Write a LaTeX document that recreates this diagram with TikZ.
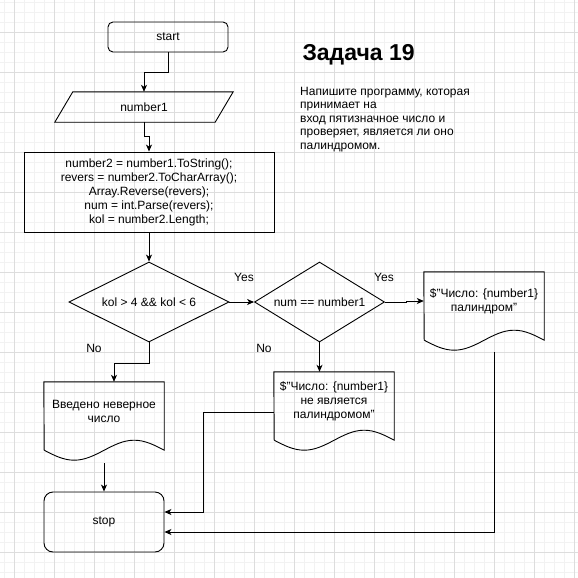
\documentclass[tikz,border=0pt]{standalone}
\usepackage{fontspec}
\setmainfont{Liberation Sans}
\usetikzlibrary{arrows.meta,shapes.geometric}

\definecolor{gridminor}{RGB}{242,242,242}
\definecolor{gridmajor}{RGB}{221,221,221}

\tikzset{
    line/.style = {line width = 0.9pt},
    arrow/.style = {line, -{Stealth[length = 7pt, width = 6pt, inset = 2pt]}},
    txt/.style = {font = \fontsize{12}{14}\selectfont, inner sep = 0pt},
    terminal/.style = {txt, draw, line, minimum width = 120},
    io/.style = {txt, minimum width = 160, minimum height = 30},
    process/.style = {txt, draw, line, align = center, minimum width = 250, minimum height = 80},
    decision/.style = {txt, draw, line, diamond, minimum height = 80},
    doc/.style = {txt, align = center, minimum width = 120, minimum height = 58},
}

% wavy bottom of a document node
\newcommand{\docoutline}[1]{%
    \draw[line] (#1.north west) -- (#1.north east) -- ([yshift = -10pt]#1.south east)
        sin ++(-30, -10) cos ++(-30, 10) sin ++(-30, 10) cos ++(-30, -10) -- cycle;
}

\begin{document}
\begin{tikzpicture}[x = 1pt, y = -1pt]
    \useasboundingbox (0, 0) rectangle (578, 578);
    \draw [gridminor, line width = 0.8pt]
        \foreach\x in {4, 14, ..., 574} {(\x, 0) -- (\x, 578)}
        \foreach\y in {2, 12, ..., 572} {(0, \y) -- (578, \y)};
    \draw [gridmajor, line width = 0.8pt]
        \foreach\x in {14, 54, ..., 574} {(\x, 0) -- (\x, 578)}
        \foreach\y in {32, 72, ..., 552} {(0, \y) -- (578, \y)};

    \node [anchor = base west, font = \fontsize{23}{27}\selectfont\bfseries] (title) at (299, 60) {Задача 19};
    \node [txt, anchor = north west, align = left, font = \fontsize{12}{13.5}\selectfont] (task) at (300, 87)
        {Напишите программу, которая\\принимает на\\вход пятизначное число и\\проверяет, является ли оно\\палиндромом.};

    \node [terminal, rounded corners = 5pt, minimum height = 30] (start) at (168, 37) {start};
    \node [io] (in) at (144, 107) {number1};
    \draw [line] ([xshift = -9pt]in.south west) -- ([xshift = 9pt]in.north west)
        -- ([xshift = 9pt]in.north east) -- ([xshift = -9pt]in.south east) -- cycle;
    \node [process] (calc) at (149, 192) {number2 = number1.ToString();\\revers = number2.ToCharArray();\\Array.Reverse(revers);\\num = int.Parse(revers);\\kol = number2.Length;};
    \node [decision, aspect = 2, minimum width = 160] (len) at (149, 302) {kol > 4 \&\& kol < 6};
    \node [decision, aspect = 1.625, minimum width = 130] (same) at (319.5, 302) {num == number1};
    \node [doc] (pal) at (484, 301) {\$"Число: \{number1\}\\палиндром"};
    \node [doc] (notpal) at (334, 401) {\$"Число: \{number1\}\\не является\\палиндромом"};
    \node [doc] (wrong) at (104, 411) {Введено неверное\\число};
    \docoutline{pal}
    \docoutline{notpal}
    \docoutline{wrong}
    \node [terminal, rounded corners = 9pt, minimum height = 60] (stop) at (104, 522) {stop};

    \node [txt] (yes1) at (244, 277) {Yes};
    \node [txt] (yes2) at (384, 277) {Yes};
    \node [txt] (no1) at (94, 348) {No};
    \node [txt] (no2) at (264, 348) {No};

    \draw [arrow] (start.south) -- ++(0, 20) -| (in.north);
    \draw [arrow] (in.south) -- ++(0, 14) -| (calc.north);
    \draw [arrow] (calc.south) -- (len.north);
    \draw [arrow] (len.east) -- (same.west);
    \draw [arrow] (same.east) -- ++(21, 0) |- (pal.west);
    \draw [arrow] (len.south) -- ++(0, 21) -| ([xshift = 10pt]wrong.north);
    \draw [arrow] (same.south) -- (same.south |- notpal.north);
    \draw [arrow] ([yshift = -23pt]wrong.south) -- (stop.north);
    \draw [arrow] ([yshift = -11pt]notpal.west) -- ++(-70, 0) |- ([yshift = 10pt]stop.east);
    \draw [arrow] ([xshift = 10pt, yshift = -22pt]pal.south) |- ([yshift = -10pt]stop.east);
\end{tikzpicture}
\end{document}
